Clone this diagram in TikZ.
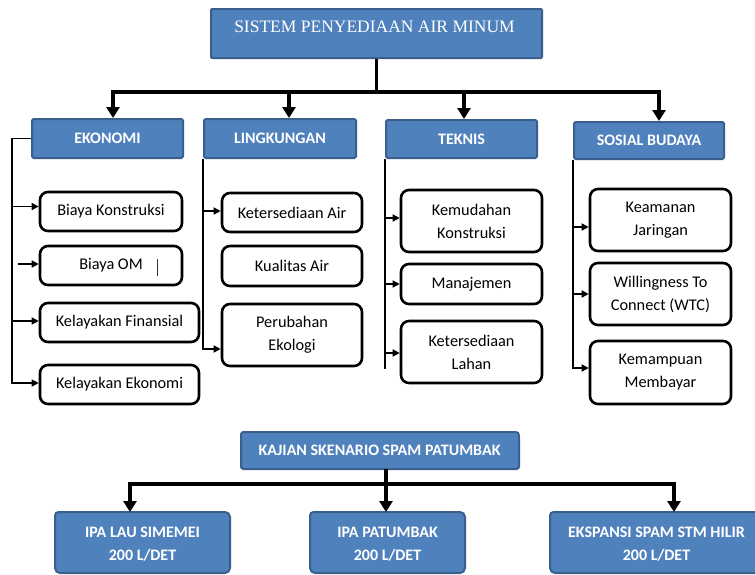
\documentclass[tikz,border=0pt]{standalone}
\usepackage{fontspec}
\setmainfont{Carlito}
\newfontfamily\titlefont{Liberation Serif}
\usetikzlibrary{arrows.meta,calc}
\definecolor{boxblue}{HTML}{4F81BD}
\definecolor{boxedge}{HTML}{3A5F8C}
\pgfdeclarelayer{bg}
\pgfsetlayers{bg,main}
\begin{document}
\begin{tikzpicture}[x=1pt,y=-1pt,
  hdr/.style={draw=boxedge, line width=2pt, fill=boxblue, text=white, font=\bfseries\fontsize{16}{19}\selectfont, inner sep=0pt, rounded corners=1.5pt},
  item/.style={draw=black, line width=2.6pt, fill=white, rounded corners=8pt, inner sep=0pt, align=center, font=\fontsize{16.3}{23}\selectfont},
  blank/.style={inner sep=0pt, outer sep=0pt},
  btxt/.style={text=white, align=center, inner sep=0pt, font=\bfseries\fontsize{16}{23}\selectfont},
  bluepath/.style={draw=boxedge, line width=2pt, fill=boxblue},
  main/.style={line width=3.5pt},
  mainarr/.style={main, -{Triangle[width=13pt,length=11pt]}},
  side/.style={line width=1.5pt},
  sidearr/.style={side, -{Triangle[width=7pt,length=7pt]}}
]
\clip (0,0) rectangle (755,574);
\begin{pgfonlayer}{bg}
\fill[white] (0,0) rectangle (755,574);
\end{pgfonlayer}

% top
\node[hdr, rounded corners=1pt, minimum width=331, minimum height=49] (top) at (376.5,33.5) {};
\node[blank, text=white, font=\titlefont\fontsize{17.5}{20}\selectfont] (toptxt) at (374.5,27) {SISTEM PENYEDIAAN AIR MINUM};

% headers
\node[hdr, minimum width=151, minimum height=39] (eko) at (107.5,138.5) {EKONOMI};
\node[hdr, minimum width=152, minimum height=39] (ling) at (280,138.5) {LINGKUNGAN};
\node[hdr, minimum width=151, minimum height=38] (tek) at (461.5,139) {TEKNIS};
\node[hdr, minimum width=150, minimum height=37] (sos) at (649,140.5) {SOSIAL BUDAYA};

% ekonomi items
\node[item, minimum width=142, minimum height=39] (k1) at (111,211.5) {Biaya Konstruksi};
\node[item, minimum width=142, minimum height=39] (k2) at (111,265.5) {Biaya OM};
\node[item, minimum width=159, minimum height=39] (k3) at (119.5,322.5) {Kelayakan Finansial};
\node[item, minimum width=159, minimum height=39] (k4) at (119.5,384.5) {Kelayakan Ekonomi};
\draw[line width=0.9pt, black!80] ($(k2.center)+(46,-6.5)$) -- ($(k2.center)+(46,10.5)$);

% lingkungan items
\node[item, minimum width=140, minimum height=39] (l1) at (292,212.5) {Ketersediaan Air};
\node[item, minimum width=140, minimum height=40] (l2) at (292,266) {Kualitas Air};
\node[item, minimum width=140, minimum height=62] (l3) at (292,335) {Perubahan\\Ekologi};

% teknis items
\node[item, minimum width=141, minimum height=62] (t1) at (471.5,221) {Kemudahan\\Konstruksi};
\node[item, minimum width=141, minimum height=40] (t2) at (471.5,284) {Manajemen};
\node[item, minimum width=141, minimum height=62] (t3) at (471.5,352) {Ketersediaan\\Lahan};

% sosial items
\node[item, minimum width=141, minimum height=62] (s1) at (660.5,220) {Keamanan\\Jaringan};
\node[item, minimum width=141, minimum height=62] (s2) at (660.5,294) {Willingness To\\Connect (WTC)};
\node[item, minimum width=141, minimum height=63] (s3) at (660.5,372.5) {Kemampuan\\Membayar};

% bottom part
\node[blank, minimum width=278, minimum height=37] (kaj) at (380,450.5) {};
\node[btxt] (kajtxt) at (379.5,450) {KAJIAN SKENARIO SPAM PATUMBAK};
\node[blank, minimum width=175, minimum height=61] (b1) at (142.5,542.5) {};
\node[blank, minimum width=155, minimum height=61] (b2) at (387.5,542.5) {};
\node[blank, minimum width=213, minimum height=61] (b3) at (656.5,542.5) {};
\node[btxt] (b1txt) at ($(b1.center)+(0,2)$) {IPA LAU SIMEMEI\\200 L/DET};
\node[btxt] (b2txt) at ($(b2.center)+(0,2)$) {IPA PATUMBAK\\200 L/DET};
\node[btxt] (b3txt) at ($(b3.center)+(0,2)$) {EKSPANSI SPAM STM HILIR\\200 L/DET};

\begin{pgfonlayer}{bg}
  \draw[bluepath, rounded corners=2.5pt] ($(kaj.north east)+(-10,0)$) .. controls (kaj.north east) .. ($(kaj.north east)+(0,10)$) -- (kaj.south east) -- (kaj.south west) -- (kaj.north west) -- cycle;
  \foreach \n in {b1,b2,b3}{
    \draw[bluepath, rounded corners=5pt] ($(\n.north west)+(0,13)$) .. controls (\n.north west) .. ($(\n.north west)+(13,0)$) -- (\n.north east) -- (\n.south east) -- (\n.south west) -- cycle;
  }
\end{pgfonlayer}

% main connectors (top)
\coordinate (bus) at ($(top.south)+(0,33)$);
\coordinate (ekoT) at ($(eko.north)+(5.5,0)$);
\coordinate (lingT) at ($(ling.north)+(9,0)$);
\coordinate (tekT) at ($(tek.north)+(2.5,0)$);
\coordinate (sosT) at ($(sos.north)+(10,0)$);
\draw[main] (top.south) -- (bus);
\draw[mainarr] (bus) -| (ekoT);
\draw[mainarr] (bus) -| (sosT);
\draw[mainarr] (lingT |- bus) -- (lingT);
\draw[mainarr] (tekT |- bus) -- (tekT);

% main connectors (bottom)
\coordinate (kajS) at ($(kaj.south)+(6,0)$);
\coordinate (bbus) at ($(kajS)+(0,15)$);
\coordinate (b1T) at ($(b1.north)+(-12.5,0)$);
\coordinate (b3T) at ($(b3.north)+(17.5,0)$);
\draw[mainarr] (kajS) -- (kajS |- b2.north);
\draw[mainarr] (bbus) -| (b1T);
\draw[mainarr] (bbus) -| (b3T);

% ekonomi side connectors
\coordinate (ekoX) at ($(eko.west)+(-19,0)$);
\draw[sidearr] (eko.west) -- (ekoX) |- ($(k4.west)+(0,-1.5)$);
\draw[sidearr] ($(ekoX |- k1.west)+(0,-5)$) -- ($(k1.west)+(0,-5)$);
\draw[sidearr] ($(k2.west)+(-21,-1.5)$) -- ($(k2.west)+(0,-1.5)$);
\draw[sidearr] ($(ekoX |- k3.west)+(0,-1.5)$) -- ($(k3.west)+(0,-1.5)$);

% lingkungan side connectors
\draw[sidearr] (ling.south west) |- ($(l3.west)+(0,14)$);
\draw[sidearr] ($(ling.south west |- l1.west)+(0,-1.5)$) -- ($(l1.west)+(0,-1.5)$);

% teknis side connectors
\draw[side] (tek.south west) -- ($(tek.south west |- t3.south)+(0,-15)$);
\draw[sidearr] ($(tek.south west |- t1.west)+(0,-3)$) -- ($(t1.west)+(0,-3)$);
\draw[sidearr] (tek.south west |- t2.west) -- (t2.west);
\draw[sidearr] ($(tek.south west |- t3.west)+(0,1)$) -- ($(t3.west)+(0,1)$);

% sosial side connectors
\draw[sidearr] (sos.south west) |- ($(s3.west)+(0,-4.5)$);
\draw[sidearr] ($(sos.south west |- s1.west)+(0,7)$) -- ($(s1.west)+(0,7)$);
\draw[sidearr] (sos.south west |- s2.west) -- (s2.west);
\end{tikzpicture}
\end{document}
